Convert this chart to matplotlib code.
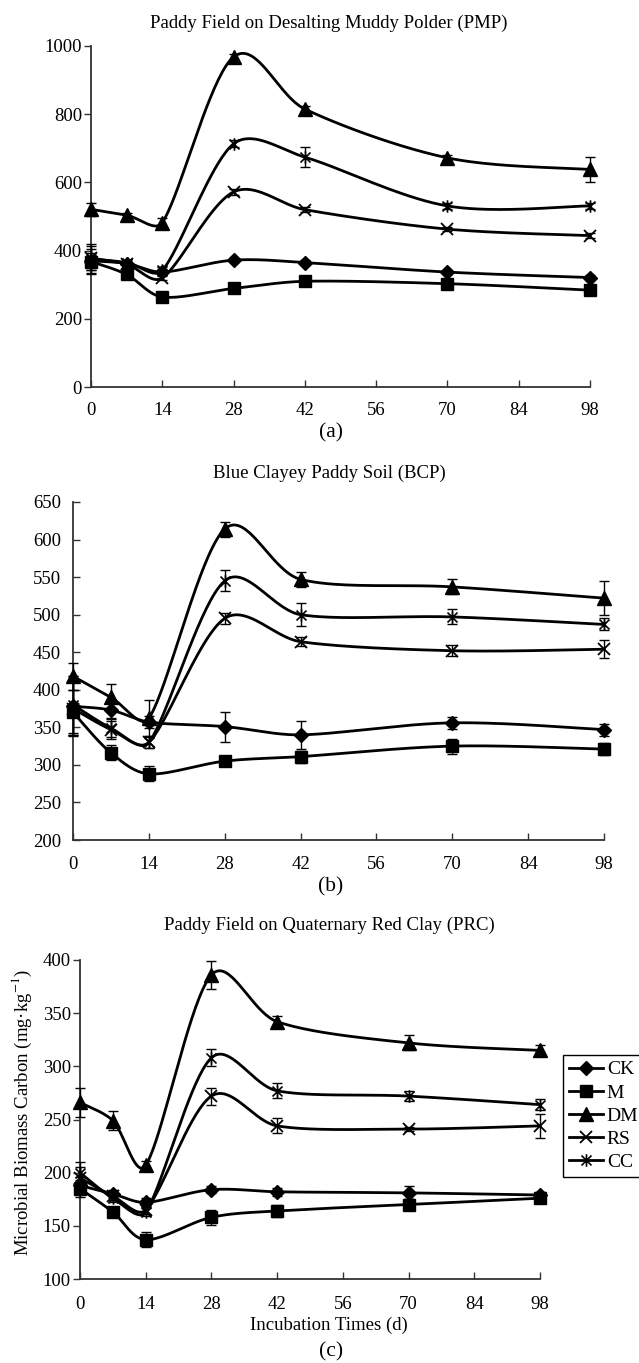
import numpy as np
import matplotlib
matplotlib.use("Agg")
import matplotlib.pyplot as plt
from matplotlib.path import Path
from matplotlib.lines import Line2D

plt.rcParams['font.family'] = ['Liberation Serif', 'DejaVu Serif']
plt.rcParams['mathtext.fontset'] = 'stix'

# ---- data -------------------------------------------------------------
days = [0, 7, 14, 28, 42, 70, 98]
x_ticks = [0, 14, 28, 42, 56, 70, 84, 98]
treatments = ['CK', 'M', 'DM', 'RS', 'CC']

# (a) Paddy field on desalting muddy polder
ck_a = [370, 362, 337, 372, 365, 337, 321]
m_a = [368, 330, 264, 289, 310, 303, 284]
dm_a = [521, 504, 482, 968, 815, 672, 638]
rs_a = [378, 360, 320, 572, 520, 463, 444]
cc_a = [375, 365, 342, 713, 674, 531, 531]
ck_a_err = [35, 8, 8, 6, 8, 6, 6]
m_a_err = [25, 8, 12, 10, 8, 8, 8]
dm_a_err = [20, 6, 15, 10, 8, 7, 36]
rs_a_err = [35, 6, 6, 10, 8, 5, 8]
cc_a_err = [45, 6, 10, 10, 30, 8, 8]

# (b) Blue clayey paddy soil
ck_b = [378, 373, 357, 351, 340, 356, 347]
m_b = [370, 316, 288, 305, 311, 325, 321]
dm_b = [418, 390, 362, 614, 547, 537, 522]
rs_b = [375, 347, 330, 495, 464, 452, 454]
cc_b = [380, 349, 330, 545, 500, 497, 487]
ck_b_err = [40, 10, 8, 20, 19, 8, 8]
m_b_err = [30, 10, 10, 5, 8, 10, 8]
dm_b_err = [18, 18, 25, 10, 10, 10, 23]
rs_b_err = [35, 12, 8, 7, 6, 7, 12]
cc_b_err = [38, 12, 8, 14, 15, 10, 8]

# (c) Paddy field on quaternary red clay
ck_c = [188, 180, 172, 184, 182, 181, 179]
m_c = [185, 163, 137, 158, 164, 170, 176]
dm_c = [266, 249, 207, 386, 342, 322, 315]
rs_c = [195, 178, 165, 272, 244, 241, 244]
cc_c = [200, 176, 163, 308, 277, 272, 264]
ck_c_err = [8, 4, 4, 3, 4, 6, 3]
m_c_err = [8, 5, 7, 7, 6, 5, 3]
dm_c_err = [14, 9, 4, 13, 5, 7, 5]
rs_c_err = [10, 4, 4, 8, 7, 2, 11]
cc_c_err = [10, 4, 4, 8, 7, 5, 5]

titles = ['Paddy Field on Desalting Muddy Polder (PMP)',
          'Blue Clayey Paddy Soil (BCP)',
          'Paddy Field on Quaternary Red Clay (PRC)']
panel_tags = ['(a)', '(b)', '(c)']
y_limits = [(0, 1000), (200, 650), (100, 400)]
y_steps = [200, 50, 50]
x_label = 'Incubation Times (d)'
y_label = 'Microbial Biomass Carbon (mg\u00b7kg$^{-1}$)'

panels = [
    ([ck_a, m_a, dm_a, rs_a, cc_a], [ck_a_err, m_a_err, dm_a_err, rs_a_err, cc_a_err]),
    ([ck_b, m_b, dm_b, rs_b, cc_b], [ck_b_err, m_b_err, dm_b_err, rs_b_err, cc_b_err]),
    ([ck_c, m_c, dm_c, rs_c, cc_c], [ck_c_err, m_c_err, dm_c_err, rs_c_err, cc_c_err]),
]

# ---- marker styles ----------------------------------------------------
asterisk = Path([(-1, -1), (1, 1), (-1, 1), (1, -1), (0, -1.25), (0, 1.25)],
                [Path.MOVETO, Path.LINETO, Path.MOVETO, Path.LINETO,
                 Path.MOVETO, Path.LINETO])
styles = {
    'CK': dict(marker='D', ms=7.5, mfc='black', mec='black', mew=1),
    'M': dict(marker='s', ms=8, mfc='black', mec='black', mew=1),
    'DM': dict(marker='^', ms=9.5, mfc='black', mec='black', mew=1),
    'RS': dict(marker='x', ms=8.5, mfc='none', mec='black', mew=1.3),
    'CC': dict(marker=asterisk, ms=9, mfc='none', mec='black', mew=1.2),
}


def smooth_curve(ax, xs, ys, n=40):
    """Smooth Bezier curve through every point, built in display space.
    Handle length is a sixth of the neighbour chord, capped at a third of
    the segment it belongs to."""
    pts = ax.transData.transform(np.column_stack([xs, ys]).astype(float))
    npts = len(pts)
    tang = np.zeros_like(pts)
    chord = np.zeros(npts)
    for i in range(npts):
        a = pts[max(i - 1, 0)]
        b = pts[min(i + 1, npts - 1)]
        d = b - a
        norm = np.hypot(*d)
        chord[i] = norm
        tang[i] = d / norm if norm > 0 else 0
    t = np.linspace(0, 1, n)[:, None]
    out = []
    for i in range(npts - 1):
        p1, p2 = pts[i], pts[i + 1]
        seg_len = np.hypot(*(p2 - p1))
        h1 = min(chord[i] / 6.0, seg_len / 3.0)
        h2 = min(chord[i + 1] / 6.0, seg_len / 3.0)
        c1 = p1 + tang[i] * h1
        c2 = p2 - tang[i + 1] * h2
        seg = ((1 - t) ** 3) * p1 + 3 * (1 - t) ** 2 * t * c1 \
            + 3 * (1 - t) * t ** 2 * c2 + t ** 3 * p2
        out.append(seg if i == 0 else seg[1:])
    out = ax.transData.inverted().transform(np.vstack(out))
    return out[:, 0], out[:, 1]


W, H = 639, 1363
fig = plt.figure(figsize=(W / 100, H / 100), dpi=100)

# axes boxes in pixels: left, top, right, bottom
boxes = [(91, 46, 590, 387), (73, 502, 604, 840), (80, 960, 540, 1279)]
ytick_dir = ['out', 'in', 'out']
xtick_pad = [11, 11.5, 12]
title_y = [23, 473, 925]
tag_y = [433, 887, 1352]

spine_color = '#333333'
axes = []
for k, (l, t, r, b) in enumerate(boxes):
    ax = fig.add_axes([l / W, 1 - b / H, (r - l) / W, (b - t) / H])
    axes.append(ax)
    ax.set_xlim(0, 98)
    ax.set_ylim(*y_limits[k])
    series, errs = panels[k]
    for name, vals, err in zip(treatments, series, errs):
        sx, sy = smooth_curve(ax, days, vals)
        ax.plot(sx, sy, color='black', lw=2.0, zorder=2, clip_on=False)
        st = styles[name]
        ax.errorbar(days, vals, yerr=err, fmt='none', ecolor='black',
                    elinewidth=1.0, capsize=3.6, capthick=1.0, zorder=3,
                    clip_on=False)
        ax.plot(days, vals, linestyle='none', zorder=4, clip_on=False, **st)
    ax.set_xticks(x_ticks)
    lo, hi = y_limits[k]
    ax.set_yticks(np.arange(lo, hi + 1, y_steps[k]))
    for side in ('top', 'right'):
        ax.spines[side].set_visible(False)
    for side in ('left', 'bottom'):
        ax.spines[side].set_color(spine_color)
        ax.spines[side].set_linewidth(1.3)
    ax.tick_params(axis='x', direction='in', length=5, width=1,
                   color=spine_color, labelsize=13.5, pad=xtick_pad[k])
    ax.tick_params(axis='y', direction=ytick_dir[k], length=5, width=1,
                   color=spine_color, labelsize=13.5,
                   pad=1.5 if ytick_dir[k] == 'out' else 8.5)
    fig.text(329 / W, 1 - title_y[k] / H, titles[k], ha='center',
             va='center', fontsize=13.5)
    fig.text(331 / W, 1 - tag_y[k] / H, panel_tags[k], ha='center',
             va='center', fontsize=15.5)

fig.text(329 / W, 1 - 1325 / H, x_label, ha='center', va='center',
         fontsize=13.5)
fig.text(22 / W, 1 - 1112 / H, y_label, ha='center', va='center',
         rotation=90, fontsize=13.5)

handles = [Line2D([0], [0], color='black', lw=2.0, **styles[n])
           for n in treatments]
leg = fig.legend(handles, treatments, loc='upper left',
                 bbox_to_anchor=(563 / W, 1 - 1055 / H), frameon=True,
                 fancybox=False, edgecolor='black', framealpha=1,
                 fontsize=14, handlelength=1.75, handletextpad=0.2,
                 labelspacing=0.28, borderpad=0.3, borderaxespad=0)
leg.get_frame().set_linewidth(1.0)

fig.savefig('out.png', dpi=100)
